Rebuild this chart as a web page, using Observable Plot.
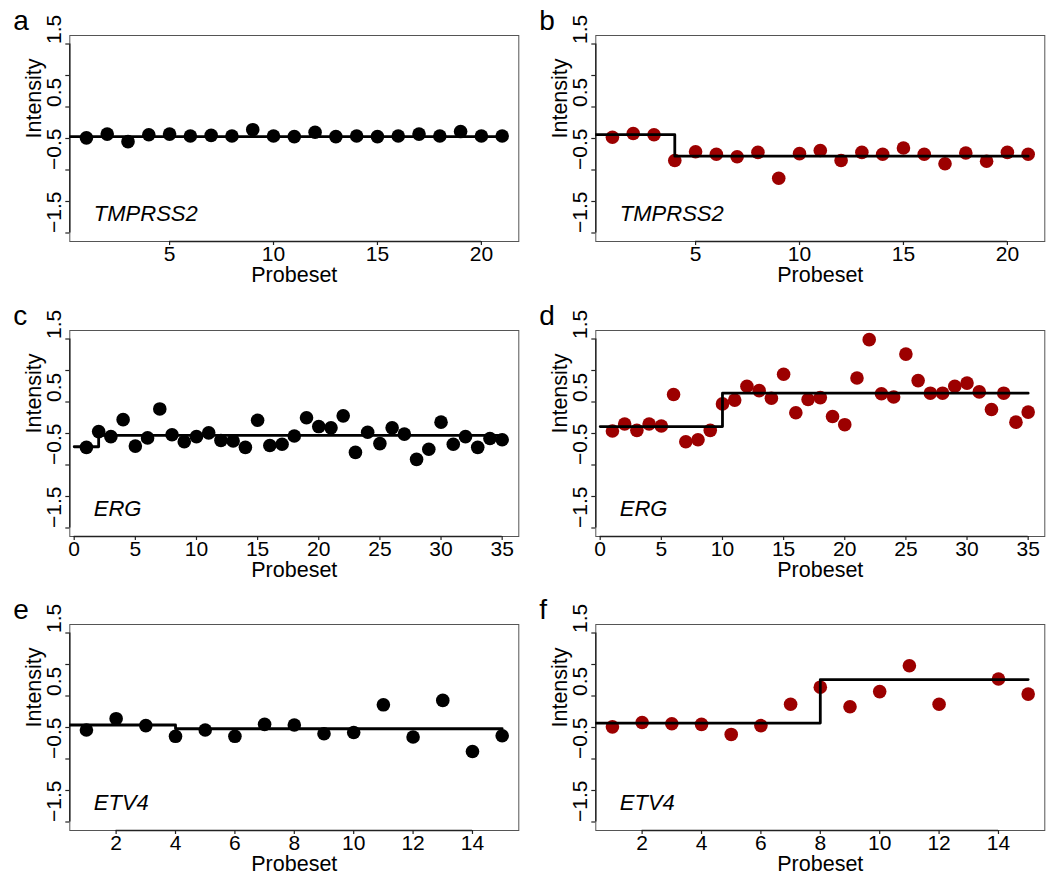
<!DOCTYPE html>
<html>
<head>
<meta charset="utf-8">
<script src="https://cdn.jsdelivr.net/npm/d3@7"></script>
<script src="https://cdn.jsdelivr.net/npm/@observablehq/plot@0.6"></script>
<style>
  body { margin: 0; background: #fff; }
  #chart { position: relative; width: 1058px; height: 878px; background: #fff; }
  #chart svg { position: absolute; }
</style>
</head>
<body>
<div id="chart"></div>
<script>
// Probeset intensities per gene; black = normal sample, red = tumour sample.
// Step lines are the segment means (breakpoints and level of each segment).

const tmprss2Normal = [0.01, 0.07, -0.05, 0.06, 0.07, 0.04, 0.05, 0.04, 0.14, 0.04, 0.03,
                       0.10, 0.03, 0.04, 0.03, 0.04, 0.07, 0.04, 0.11, 0.04, 0.04];
const tmprss2NormalBreaks = [0, 21];
const tmprss2NormalLevels = [0.03, 0.03];

const tmprss2Tumour = [0.02, 0.08, 0.06, -0.35, -0.21, -0.25, -0.29, -0.22, -0.63, -0.24, -0.19,
                       -0.35, -0.22, -0.25, -0.15, -0.25, -0.40, -0.23, -0.36, -0.22, -0.25];
const tmprss2TumourBreaks = [0, 4, 21];
const tmprss2TumourLevels = [0.06, -0.28, -0.28];

const ergNormal = [-0.22, 0.03, -0.05, 0.22, -0.20, -0.07, 0.39, -0.02, -0.13, -0.05, 0.01, -0.11,
                   -0.12, -0.22, 0.21, -0.19, -0.17, -0.04, 0.25, 0.11, 0.09, 0.28, -0.30, 0.02,
                   -0.16, 0.09, -0.01, -0.41, -0.25, 0.18, -0.17, -0.05, -0.22, -0.08, -0.10];
const ergNormalBreaks = [0, 2, 35];
const ergNormalLevels = [-0.21, -0.03, -0.03];

const ergTumour = [0.04, 0.15, 0.05, 0.15, 0.12, 0.62, -0.13, -0.10, 0.05, 0.47, 0.53, 0.75,
                   0.68, 0.56, 0.94, 0.33, 0.54, 0.57, 0.27, 0.14, 0.88, 1.49, 0.63, 0.58,
                   1.26, 0.84, 0.64, 0.64, 0.75, 0.80, 0.66, 0.38, 0.64, 0.18, 0.34];
const ergTumourBreaks = [0, 10, 35];
const ergTumourLevels = [0.11, 0.64, 0.64];

const etv4Normal = [-0.04, 0.14, 0.03, -0.14, -0.04, -0.14, 0.05, 0.04, -0.10, -0.08, 0.36,
                    -0.15, 0.43, -0.38, -0.13];
const etv4NormalBreaks = [0, 4, 15];
const etv4NormalLevels = [0.04, -0.02, -0.02];

const etv4Tumour = [0.01, 0.08, 0.06, 0.05, -0.11, 0.03, 0.37, 0.64, 0.33, 0.57, 0.98,
                    0.37, null, 0.77, 0.53];
const etv4TumourBreaks = [0, 8, 15];
const etv4TumourLevels = [0.07, 0.76, 0.76];

const ticks21 = [5, 10, 15, 20];
const ticks35 = [0, 5, 10, 15, 20, 25, 30, 35];
const ticks15 = [2, 4, 6, 8, 10, 12, 14];
const yTickMarks = [-1.5, -1, -0.5, 0, 0.5, 1, 1.5];
const yTickLabels = [-1.5, -0.5, 0.5, 1.5];
const yDomain = [-1.635, 1.635];

const normalColor = "#000000";
const tumourColor = "#9c0000";
const fontFamily = '"Liberation Sans", Arial, Helvetica, sans-serif';

const panels = [
  {letter: "a", gene: "TMPRSS2", values: tmprss2Normal, breaks: tmprss2NormalBreaks, levels: tmprss2NormalLevels, xTicks: ticks21, color: normalColor, left: 0,     top: 0},
  {letter: "b", gene: "TMPRSS2", values: tmprss2Tumour, breaks: tmprss2TumourBreaks, levels: tmprss2TumourLevels, xTicks: ticks21, color: tumourColor, left: 525.5, top: 0},
  {letter: "c", gene: "ERG",     values: ergNormal,     breaks: ergNormalBreaks,     levels: ergNormalLevels,     xTicks: ticks35, color: normalColor, left: 0,     top: 295},
  {letter: "d", gene: "ERG",     values: ergTumour,     breaks: ergTumourBreaks,     levels: ergTumourLevels,     xTicks: ticks35, color: tumourColor, left: 525.5, top: 295},
  {letter: "e", gene: "ETV4",    values: etv4Normal,    breaks: etv4NormalBreaks,    levels: etv4NormalLevels,    xTicks: ticks15, color: normalColor, left: 0,     top: 589},
  {letter: "f", gene: "ETV4",    values: etv4Tumour,    breaks: etv4TumourBreaks,    levels: etv4TumourLevels,    xTicks: ticks15, color: tumourColor, left: 525.5, top: 589}
];

const fmt = d3.format(".1f");

function panel(p) {
  const n = p.values.length;
  const pad = (n - 1) * 0.04;             // R-style 4% axis expansion
  const xDomain = [1 - pad, n + pad];
  const points = p.values.map((v, i) => ({probeset: i + 1, intensity: v}));
  const steps = p.breaks.map((b, i) => ({probeset: b, level: p.levels[i]}));

  return Plot.plot({
    width: 529,
    height: 289,
    marginLeft: 69.3,
    marginRight: 10.7,
    marginTop: 35,
    marginBottom: 48,
    x: {domain: xDomain},
    y: {domain: yDomain},
    style: {fontFamily, fontSize: "21px", color: "#000", background: "white", overflow: "visible"},
    marks: [
      Plot.frame({stroke: "#555", strokeWidth: 1}),
      // axis lines span first to last tick
      Plot.ruleY([yDomain[0]], {x1: p.xTicks[0], x2: p.xTicks[p.xTicks.length - 1], stroke: "#222", strokeWidth: 1.4}),
      Plot.ruleX([xDomain[0]], {y1: yTickMarks[0], y2: yTickMarks[yTickMarks.length - 1], stroke: "#222", strokeWidth: 1.4}),
      Plot.axisY(yTickMarks, {tickSize: 4, tickFormat: () => "", label: null, stroke: "#222", strokeWidth: 1.2}),
      Plot.axisX(p.xTicks, {tickSize: 4, tickFormat: () => "", label: null, stroke: "#222", strokeWidth: 1.2}),
      Plot.text(yTickLabels, {y: d => d, text: d => fmt(d), frameAnchor: "left", dx: -16, rotate: -90, lineAnchor: "middle", fontSize: 21}),
      Plot.text(p.xTicks, {x: d => d, text: d => String(d), frameAnchor: "bottom", dy: 12.5, lineAnchor: "middle", fontSize: 21}),
      Plot.text(["Probeset"], {text: d => d, frameAnchor: "bottom", dy: 34, lineAnchor: "middle", fontSize: 21.5}),
      Plot.text(["Intensity"], {text: d => d, frameAnchor: "left", dx: -36, rotate: -90, lineAnchor: "middle", fontSize: 21.5}),
      Plot.text([p.gene], {text: d => d, frameAnchor: "bottom-left", dx: 24, dy: -28, textAnchor: "start", lineAnchor: "middle", fontStyle: "italic", fontSize: 22}),
      Plot.text([p.letter], {text: d => d, frameAnchor: "top-left", dx: -56.6, dy: -14, textAnchor: "start", lineAnchor: "middle", fontSize: 28}),
      Plot.dot(points, {x: "probeset", y: "intensity", r: 6.8, fill: p.color, stroke: null}),
      Plot.line(steps, {x: "probeset", y: "level", curve: "step-after", stroke: "#000", strokeWidth: 2.8, clip: true})
    ]
  });
}

const chart = document.getElementById("chart");
for (const p of panels) {
  const svg = panel(p);
  svg.style.left = p.left + "px";
  svg.style.top = p.top + "px";
  chart.appendChild(svg);
}
</script>
</body>
</html>
